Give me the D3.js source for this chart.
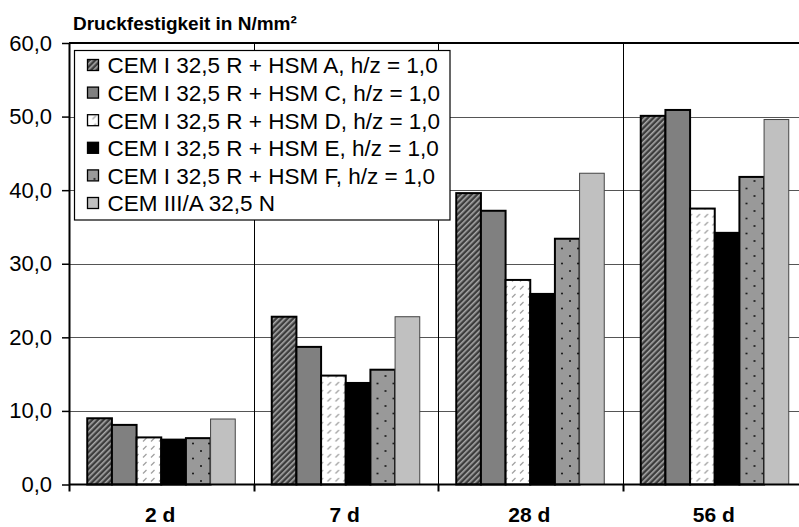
<!DOCTYPE html>
<html>
<head>
<meta charset="utf-8">
<script src="https://cdn.jsdelivr.net/npm/d3@7"></script>
<style>
  html, body { margin: 0; padding: 0; background: #fff; }
  svg { display: block; font-family: "Liberation Sans", Arial, sans-serif; }
</style>
</head>
<body>
<svg id="chart" width="799" height="527"></svg>
<script>
// Compressive strength by age, per binder
const ages = ["2 d", "7 d", "28 d", "56 d"];
const seriesNames = [
  "CEM I 32,5 R + HSM A, h/z = 1,0",
  "CEM I 32,5 R + HSM C, h/z = 1,0",
  "CEM I 32,5 R + HSM D, h/z = 1,0",
  "CEM I 32,5 R + HSM E, h/z = 1,0",
  "CEM I 32,5 R + HSM F, h/z = 1,0",
  "CEM III/A 32,5 N"
];
const hsmA  = [9.0, 22.8, 39.6, 50.1];
const hsmC  = [8.1, 18.7, 37.2, 50.9];
const hsmD  = [6.4, 14.8, 27.8, 37.5];
const hsmE  = [6.1, 13.8, 25.9, 34.2];
const hsmF  = [6.3, 15.6, 33.4, 41.8];
const cem3  = [8.9, 22.8, 42.3, 49.6];
const yTicks = [0, 10, 20, 30, 40, 50, 60];
const yTitle = "Druckfestigkeit in N/mm²";

const seriesValues = [hsmA, hsmC, hsmD, hsmE, hsmF, cem3];
const fills = ["url(#patA)", "#808080", "url(#patD)", "#000000", "url(#patF)", "#c0c0c0"];
const strokes = ["#000", "#000", "#000", "#000", "#000", "#444"];
const strokeW = [2, 2, 2, 2, 2, 1];

const svg = d3.select("#chart");
const margin = { left: 69, top: 43 };
const plotW = 738, plotH = 441.5;

// Fill patterns
const defs = svg.append("defs");
const pA = defs.append("pattern").attr("id", "patA")
  .attr("patternUnits", "userSpaceOnUse").attr("width", 4).attr("height", 4)
  .attr("patternTransform", "rotate(45)");
pA.append("rect").attr("width", 4).attr("height", 4).attr("fill", "#3c3c3c");
pA.append("rect").attr("width", 1.6).attr("height", 4).attr("fill", "#a8a8a8");

const pD = defs.append("pattern").attr("id", "patD")
  .attr("patternUnits", "userSpaceOnUse").attr("width", 8).attr("height", 8);
pD.append("rect").attr("width", 8).attr("height", 8).attr("fill", "#fff");
pD.append("line").attr("x1", 2).attr("y1", 6.5).attr("x2", 5.5).attr("y2", 3)
  .attr("stroke", "#a0a0a0").attr("stroke-width", 1.2);

const pF = defs.append("pattern").attr("id", "patF")
  .attr("patternUnits", "userSpaceOnUse").attr("width", 16).attr("height", 15)
  .attr("x", 2).attr("y", 1);
pF.append("rect").attr("width", 16).attr("height", 15).attr("fill", "#999999");
[[2, 2], [10, 9.5]].forEach(([cx, cy]) =>
  pF.append("circle").attr("cx", cx).attr("cy", cy).attr("r", 1).attr("fill", "#111"));

const g = svg.append("g").attr("transform", `translate(${margin.left},${margin.top})`);

const x0 = d3.scaleBand().domain(ages).range([0, plotW]).padding(0);
const x1 = d3.scaleBand().domain(d3.range(seriesNames.length))
  .range([0, x0.bandwidth()]).paddingInner(0).paddingOuter(0.74);
const y = d3.scaleLinear().domain([0, 60]).range([plotH, 0]);

// Horizontal gridlines
g.append("g").selectAll("line").data(yTicks.filter(d => d > 0 && d < 60)).join("line")
  .attr("x1", 0).attr("x2", plotW)
  .attr("y1", d => Math.round(y(d)) + 0.5).attr("y2", d => Math.round(y(d)) + 0.5)
  .attr("stroke", "#555").attr("stroke-width", 1);
g.append("line").attr("x1", 0).attr("x2", plotW).attr("y1", y(60)).attr("y2", y(60))
  .attr("stroke", "#000").attr("stroke-width", 2);

// Vertical gridlines at category boundaries
const bounds = ages.slice(1).map(a => x0(a));
g.append("g").selectAll("line").data(bounds).join("line")
  .attr("x1", d => Math.round(d) + 0.5).attr("x2", d => Math.round(d) + 0.5)
  .attr("y1", 0).attr("y2", plotH)
  .attr("stroke", "#000").attr("stroke-width", 1);

// Bars
const groups = g.append("g").selectAll("g").data(ages).join("g")
  .attr("transform", a => `translate(${x0(a)},0)`);
groups.selectAll("rect").data((a, i) => seriesValues.map((vals, s) => ({ s, v: vals[i] })))
  .join("rect")
  .attr("x", d => x1(d.s))
  .attr("width", x1.bandwidth())
  .attr("y", d => y(d.v))
  .attr("height", d => plotH - y(d.v))
  .attr("fill", d => fills[d.s])
  .attr("stroke", d => strokes[d.s])
  .attr("stroke-width", d => strokeW[d.s]);

// Category ticks below the baseline
g.append("g").selectAll("line").data([0, ...bounds]).join("line")
  .attr("x1", d => Math.round(d) + 0.5).attr("x2", d => Math.round(d) + 0.5)
  .attr("y1", plotH).attr("y2", plotH + 7)
  .attr("stroke", "#000").attr("stroke-width", 2);

// Y axis
const yAxis = d3.axisLeft(y).tickValues(yTicks).tickSize(7).tickPadding(10)
  .tickFormat(d => d3.format(".1f")(d).replace(".", ","));
const ya = g.append("g").call(yAxis);
ya.select(".domain").attr("stroke-width", 2).attr("d", `M0.5,${plotH}V0`);
ya.selectAll(".tick line").attr("stroke-width", 1.5);
ya.selectAll("text").attr("font-size", 22).attr("fill", "#000")
  .attr("font-family", "Liberation Sans, Arial, sans-serif");

// X axis baseline
g.append("line").attr("x1", 0).attr("x2", plotW).attr("y1", plotH).attr("y2", plotH)
  .attr("stroke", "#000").attr("stroke-width", 2);

// Category labels
g.append("g").selectAll("text").data(ages).join("text")
  .attr("x", a => x0(a) + x0.bandwidth() / 2 - 1)
  .attr("y", 522 - margin.top)
  .attr("text-anchor", "middle")
  .attr("font-size", 21).attr("font-weight", "bold")
  .text(a => a);

// Axis title
svg.append("text").attr("x", 73).attr("y", 30)
  .attr("font-size", 19).attr("font-weight", "bold").text(yTitle);

// Legend
const leg = svg.append("g").attr("transform", "translate(74.5,50.5)");
leg.append("rect").attr("width", 375.5).attr("height", 169.5)
  .attr("fill", "#fff").attr("stroke", "#000").attr("stroke-width", 1.2);
const rows = leg.selectAll("g").data(seriesNames).join("g")
  .attr("transform", (d, i) => `translate(0,${15 + i * 27.6})`);
rows.append("rect").attr("x", 13).attr("y", -6).attr("width", 11).attr("height", 11)
  .attr("fill", (d, i) => fills[i]).attr("stroke", "#000").attr("stroke-width", 1.3);
rows.append("text").attr("x", 33).attr("y", 7.8)
  .attr("font-size", 22.5).text(d => d);
</script>
</body>
</html>
